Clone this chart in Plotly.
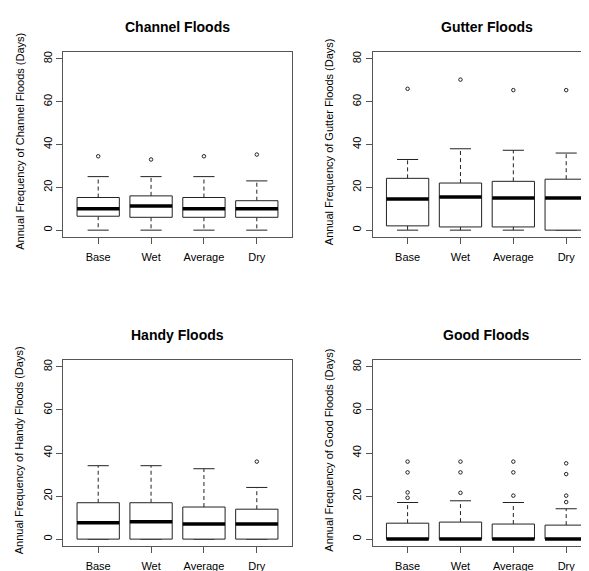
import plotly.graph_objects as go

# scenarios on the x axis
scenarios = ["Base", "Wet", "Average", "Dry"]
y_ticks = [0, 20, 40, 60, 80]

# box statistics (days per year)
channel_lower = [0, 0, 0, 0]
channel_q1 = [6.5, 6, 6, 6]
channel_med = [10, 11.25, 10, 10]
channel_q3 = [15.25, 16, 15.25, 13.75]
channel_upper = [25, 25, 25, 23]
channel_out = [[34.5], [33], [34.5], [35.3]]

gutter_lower = [0, 0, 0, 0]
gutter_q1 = [2, 1.5, 1.5, 0]
gutter_med = [14.6, 15.5, 15, 15]
gutter_q3 = [24.2, 22, 22.8, 23.8]
gutter_upper = [33, 38, 37.3, 36]
gutter_out = [[66], [70.3], [65.4], [65.4]]

handy_lower = [0, 0, 0, 0]
handy_q1 = [0, 0, 0, 0]
handy_med = [7.6, 8.1, 7, 7]
handy_q3 = [16.9, 16.9, 14.9, 13.9]
handy_upper = [34.1, 34.1, 32.7, 24]
handy_out = [[], [], [], [36]]

good_lower = [0, 0, 0, 0]
good_q1 = [0, 0, 0, 0]
good_med = [0, 0, 0, 0]
good_q3 = [7.4, 7.9, 7, 6.5]
good_upper = [17, 17.8, 17, 14.1]
good_out = [[36, 31, 21.7, 19.2], [36, 31, 21.5], [36, 31, 20.2], [35.2, 30.2, 20.2, 17.2]]

titles = ["Channel Floods", "Gutter Floods", "Handy Floods", "Good Floods"]
ytitles = ["Annual Frequency of Channel Floods (Days)",
           "Annual Frequency of Gutter Floods (Days)",
           "Annual Frequency of Handy Floods (Days)",
           "Annual Frequency of Good Floods (Days)"]

panels = [
    (channel_lower, channel_q1, channel_med, channel_q3, channel_upper, channel_out),
    (gutter_lower, gutter_q1, gutter_med, gutter_q3, gutter_upper, gutter_out),
    (handy_lower, handy_q1, handy_med, handy_q3, handy_upper, handy_out),
    (good_lower, good_q1, good_med, good_q3, good_upper, good_out),
]

W, H = 589, 571
OFF = 8          # page margin around the plot div
FONT = "Liberation Sans, Arial, sans-serif"
BOXCOL = "#222222"
FRAMECOL = "#555555"
HW = 0.4    # half box width
CW = 0.2    # half staple width

# pixel geometry of the panels in the window (left, top, bottom)
cols = [63.3, 372.7]
rows = [(52, 237), (360, 546)]
PX_PER_UNIT = 52.87
XMIN = 0.34


def px_x(p):
    return (p - OFF) / W


def px_y(p):
    return (H - (p - OFF)) / H


fig = go.Figure()

for k, (lo, q1, med, q3, up, out) in enumerate(panels):
    ax = "" if k == 0 else str(k + 1)
    xref, yref = "x" + ax, "y" + ax
    bx, by = [], []
    mx, my = [], []
    wx, wy = [], []
    sx, sy = [], []
    ox, oy = [], []
    for i in range(len(scenarios)):
        x = i + 1
        bx += [x - HW, x + HW, x + HW, x - HW, x - HW, None]
        by += [q1[i], q1[i], q3[i], q3[i], q1[i], None]
        mx += [x - HW, x + HW, None]
        my += [med[i], med[i], None]
        wx += [x, x, None, x, x, None]
        wy += [q3[i], up[i], None, q1[i], lo[i], None]
        sx += [x - CW, x + CW, None, x - CW, x + CW, None]
        sy += [up[i], up[i], None, lo[i], lo[i], None]
        for v in out[i]:
            ox.append(x)
            oy.append(v)
    fig.add_trace(go.Scatter(x=wx, y=wy, mode="lines", xaxis=xref, yaxis=yref,
                             line=dict(color=BOXCOL, width=1, dash="4px,3px"), showlegend=False))
    fig.add_trace(go.Scatter(x=sx, y=sy, mode="lines", xaxis=xref, yaxis=yref,
                             line=dict(color=BOXCOL, width=1), showlegend=False))
    fig.add_trace(go.Scatter(x=bx, y=by, mode="lines", xaxis=xref, yaxis=yref, fill="toself",
                             fillcolor="white", line=dict(color=BOXCOL, width=1), showlegend=False))
    fig.add_trace(go.Scatter(x=mx, y=my, mode="lines", xaxis=xref, yaxis=yref,
                             line=dict(color="black", width=3.5), showlegend=False))
    fig.add_trace(go.Scatter(x=ox, y=oy, mode="markers", xaxis=xref, yaxis=yref,
                             marker=dict(symbol="circle-open", size=3.5, color=BOXCOL,
                                         line=dict(width=1)), showlegend=False))

    left = cols[k % 2]
    top, bot = rows[k // 2]
    right = min(left + 4.32 * PX_PER_UNIT, W)
    xmax = XMIN + (right - left) / PX_PER_UNIT
    xa = dict(domain=[px_x(left), px_x(right)], range=[XMIN, xmax],
              tickvals=[1, 2, 3, 4], ticktext=scenarios, ticks="outside", ticklen=6,
              tickcolor=FRAMECOL, showline=True, linecolor=FRAMECOL, linewidth=1,
              mirror=True, showgrid=False, zeroline=False, fixedrange=True,
              anchor=yref, ticklabelstandoff=4,
              tickfont=dict(family=FONT, size=11, color="black"))
    ya = dict(domain=[px_y(bot), px_y(top)], range=[-3.2, 83.2],
              tickvals=y_ticks, ticks="outside", ticklen=6, tickangle=-90,
              tickcolor=FRAMECOL, showline=True, linecolor=FRAMECOL, linewidth=1,
              mirror=(k % 2 == 0), showgrid=False, zeroline=False, fixedrange=True,
              anchor=xref, tickfont=dict(family=FONT, size=11, color="black"))
    fig.update_layout(**{"xaxis" + ax: xa, "yaxis" + ax: ya})

    cx = px_x(left + 4.32 * PX_PER_UNIT / 2)
    fig.add_annotation(text="<b>" + titles[k] + "</b>", xref="paper", yref="paper",
                       x=cx, y=px_y(top - 25), showarrow=False,
                       xanchor="center", yanchor="middle",
                       font=dict(family=FONT, size=14, color="black"))
    fig.add_annotation(text=ytitles[k], xref="paper", yref="paper",
                       x=px_x(left - 44), y=px_y((top + bot) / 2 - 3),
                       textangle=-90, showarrow=False, xanchor="center", yanchor="middle",
                       font=dict(family=FONT, size=11, color="black"))

fig.update_layout(width=W, height=H, margin=dict(l=0, r=0, t=0, b=0),
                  paper_bgcolor="white", plot_bgcolor="white", showlegend=False)

fig.write_html("out.html")
